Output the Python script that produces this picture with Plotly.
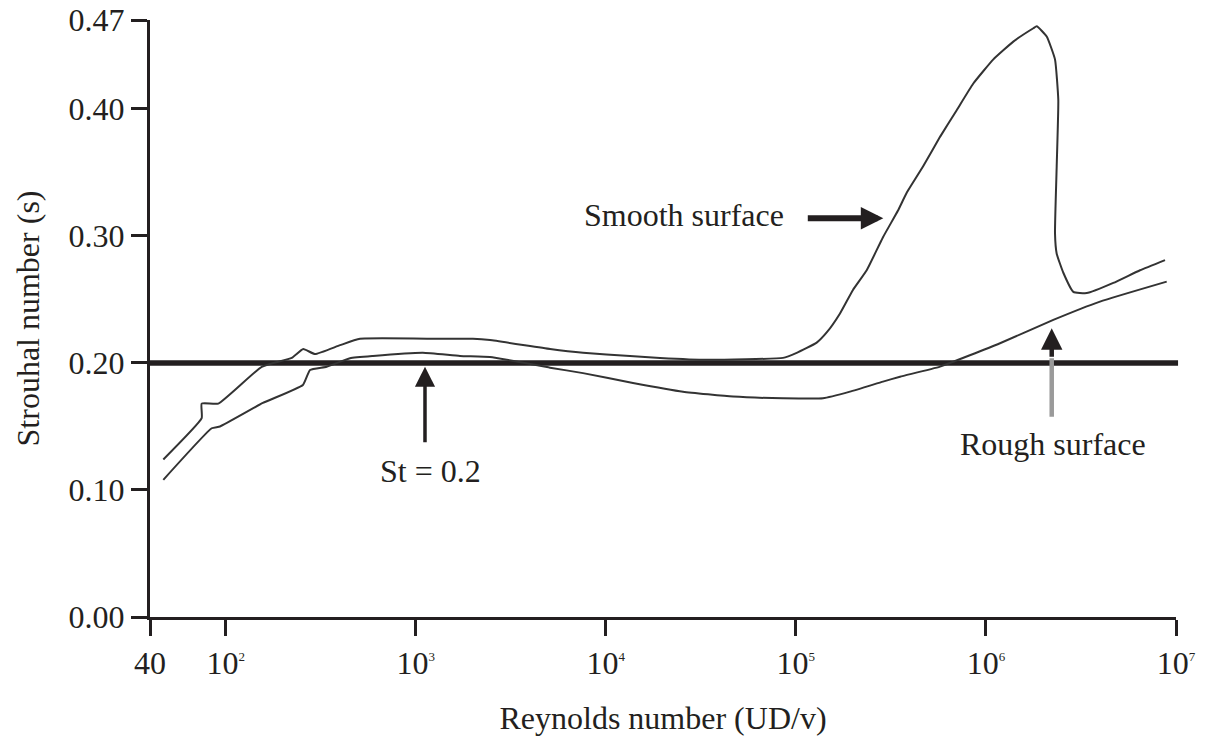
import numpy as np
import plotly.graph_objects as go

# Strouhal number vs Reynolds number for a circular cylinder
re_smooth = [47, 74.8, 74.8, 91.5, 154.8, 222.6, 256, 295, 400, 509, 1340, 2000, 2460,
             5090, 7590, 13400, 19300, 34000, 85600, 101000, 128700, 145300, 170700,
             199700, 235900, 287400, 344700, 383000, 468300, 573400, 701800, 858300,
             1.094e6, 1.393e6, 1.776e6, 1.850e6, 2.088e6, 2.309e6, 2.403e6, 2.357e6,
             2.309e6, 2.357e6, 2.554e6, 2.883e6, 3.391e6, 4.679e6, 6.466e6, 8.754e6]
st_smooth = [0.124, 0.1565, 0.168, 0.168, 0.197, 0.204, 0.211, 0.207, 0.214, 0.219, 0.219,
             0.219, 0.218, 0.211, 0.208, 0.2055, 0.204, 0.2025, 0.204, 0.208, 0.216, 0.224,
             0.239, 0.2575, 0.273, 0.299, 0.32, 0.334, 0.355, 0.378, 0.399, 0.420, 0.439,
             0.453, 0.4635, 0.465, 0.457, 0.439, 0.407, 0.355, 0.302, 0.286, 0.271, 0.256,
             0.255, 0.263, 0.273, 0.281]

re_rough = [47, 84.5, 93.4, 157, 255, 278, 340, 451, 596, 1090, 1710, 2460, 5090, 7590,
            13900, 25500, 46700, 85600, 138900, 192700, 287400, 353200, 573400, 1.186e6,
            2.262e6, 3.983e6, 8.936e6]
st_rough = [0.108, 0.1486, 0.150, 0.1685, 0.1827, 0.1945, 0.197, 0.2037, 0.2055, 0.208,
            0.2055, 0.2047, 0.1963, 0.192, 0.1843, 0.1774, 0.1735, 0.1722, 0.1722, 0.1774,
            0.1853, 0.1892, 0.1971, 0.2155, 0.2339, 0.2483, 0.264]

st_reference = 0.2

x_tick_vals = [40, 1e2, 1e3, 1e4, 1e5, 1e6, 1e7]
x_tick_text = ["40"] + ["10<sup><span style='font-size:13px'>%d</span></sup>" % k for k in range(2, 8)]
y_tick_vals = [0.0, 0.10, 0.20, 0.30, 0.40, 0.47]
y_tick_text = ["0.00", "0.10", "0.20", "0.30", "0.40", "0.47"]

INK = "#231f20"
FONT = "Liberation Serif"

fig = go.Figure()

fig.add_trace(go.Scatter(x=re_smooth, y=st_smooth, mode="lines",
                         line=dict(color="#333333", width=2, shape="spline", smoothing=0.4),
                         showlegend=False, hoverinfo="skip"))
fig.add_trace(go.Scatter(x=re_rough, y=st_rough, mode="lines",
                         line=dict(color="#333333", width=2, shape="spline", smoothing=0.4),
                         showlegend=False, hoverinfo="skip"))

# St = 0.2 reference line
fig.add_shape(type="line", xref="paper", yref="y", x0=0, x1=1.002,
              y0=st_reference, y1=st_reference, layer="below",
              line=dict(color=INK, width=5.5))

lx = np.log10
annotations = [
    # labels
    dict(x=lx(25640), y=0.3165, text="Smooth surface", showarrow=False),
    dict(x=lx(1189), y=0.115, text="St = 0.2", showarrow=False),
    dict(x=lx(2.262e6), y=0.1362, text="Rough surface", showarrow=False),
    # arrows
    dict(x=lx(2.884e5), y=0.314, text="", showarrow=True, ax=-77, ay=0,
         arrowhead=2, arrowwidth=6, arrowsize=0.75, arrowcolor=INK),
    dict(x=lx(1119), y=0.1971, text="", showarrow=True, ax=0, ay=77,
         arrowhead=2, arrowwidth=3.5, arrowsize=1.15, arrowcolor=INK),
    dict(x=lx(2.219e6), y=0.2273 - 30 / 1270, text="", showarrow=True, ax=0, ay=60,
         arrowhead=0, arrowwidth=4.5, arrowcolor="#9a9a9a"),
    dict(x=lx(2.219e6), y=0.2273, text="", showarrow=True, ax=0, ay=30,
         arrowhead=2, arrowwidth=4.5, arrowsize=0.95, arrowcolor=INK),
]
for a in annotations:
    a.update(xref="x", yref="y", xanchor="center", yanchor="middle",
             font=dict(family=FONT, size=32, color=INK))
    fig.add_annotation(**a)

fig.update_layout(
    width=1206, height=742,
    margin=dict(l=150, r=30, t=20, b=125),
    paper_bgcolor="white", plot_bgcolor="white",
    font=dict(family=FONT, size=32, color=INK),
)
fig.update_xaxes(
    type="log", range=[np.log10(40), 7], automargin=False,
    tickvals=x_tick_vals, ticktext=x_tick_text,
    ticks="outside", ticklen=16, tickwidth=3, tickcolor=INK,
    showline=True, linewidth=3, linecolor=INK, showgrid=False, zeroline=False,
    tickfont=dict(family=FONT, size=32, color=INK),
    title=dict(text="Reynolds number (UD/v)", font=dict(family=FONT, size=32, color=INK),
               standoff=27),
)
fig.update_yaxes(
    range=[0, 0.47], automargin=False,
    tickvals=y_tick_vals, ticktext=y_tick_text,
    ticks="outside", ticklen=16, tickwidth=3, tickcolor=INK,
    showline=True, linewidth=3, linecolor=INK, showgrid=False, zeroline=False,
    tickfont=dict(family=FONT, size=32, color=INK),
    title=dict(text="Strouhal number (s)", font=dict(family=FONT, size=32, color=INK),
               standoff=20),
)

fig.write_html("out.html")
